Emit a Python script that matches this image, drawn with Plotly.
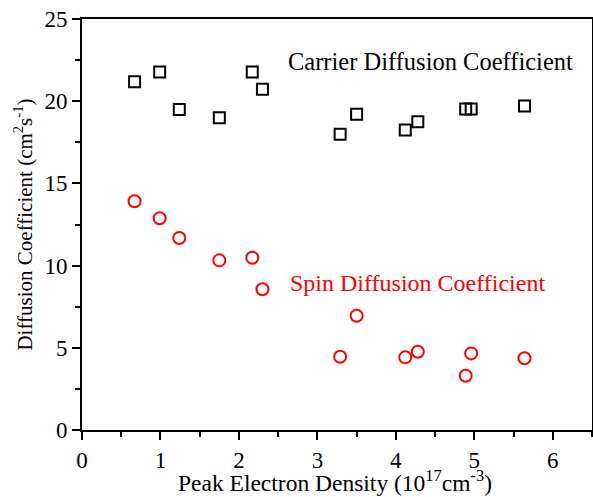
import plotly.graph_objects as go

carrier_x = [0.67, 0.99, 1.24, 1.75, 2.17, 2.30, 3.29, 3.50, 4.12, 4.28, 4.89, 4.96, 5.64]
carrier_y = [21.19, 21.78, 19.5, 19.0, 21.78, 20.72, 17.99, 19.2, 18.25, 18.75, 19.53, 19.53, 19.71]

spin_x = [0.67, 0.99, 1.24, 1.75, 2.17, 2.30, 3.29, 3.50, 4.12, 4.28, 4.89, 4.96, 5.64]
spin_y = [13.91, 12.88, 11.68, 10.32, 10.48, 8.56, 4.46, 6.95, 4.42, 4.76, 3.30, 4.66, 4.36]

font = "Liberation Serif"

fig = go.Figure()
fig.add_trace(go.Scatter(
    x=carrier_x, y=carrier_y, mode="markers",
    marker=dict(symbol="square-open", size=11, color="black", line=dict(width=2, color="black")),
    showlegend=False,
))
fig.add_trace(go.Scatter(
    x=spin_x, y=spin_y, mode="markers",
    marker=dict(symbol="circle-open", size=12, color="red", line=dict(width=2, color="red")),
    showlegend=False,
))

fig.add_annotation(x=2.60, y=22.4, xref="x", yref="y", text="Carrier Diffusion Coefficient",
                   showarrow=False, xanchor="left", yanchor="middle",
                   font=dict(family=font, size=24.5, color="black"))
fig.add_annotation(x=2.63, y=8.94, xref="x", yref="y", text="Spin Diffusion Coefficient",
                   showarrow=False, xanchor="left", yanchor="middle",
                   font=dict(family=font, size=24, color="red"))
# x-axis title as a paper-anchored annotation
fig.add_annotation(x=0.496, y=-0.165, xref="paper", yref="paper",
                   text="Peak Electron Density (10<sup>17</sup>cm<sup>-3</sup>)",
                   showarrow=False, xanchor="center", yanchor="bottom",
                   font=dict(family=font, size=23.5, color="black"))

fig.update_layout(
    width=593, height=497,
    margin=dict(l=82, r=1, t=19, b=67, autoexpand=False),
    paper_bgcolor="white", plot_bgcolor="white",
    font=dict(family=font, size=23, color="black"),
    xaxis=dict(
        range=[0, 6.5], dtick=1, tick0=0, automargin=False,
        showline=True, linecolor="black", linewidth=2, mirror=True,
        ticks="outside", ticklen=8, tickwidth=2, tickcolor="black",
        minor=dict(ticks="outside", ticklen=5, tickwidth=2, tickcolor="black", dtick=0.5),
        showgrid=False, zeroline=False,
        tickfont=dict(size=23),
    ),
    yaxis=dict(
        range=[0, 25], dtick=5, tick0=0, automargin=False,
        showline=True, linecolor="black", linewidth=2, mirror=True,
        ticks="outside", ticklen=8, tickwidth=2, tickcolor="black",
        minor=dict(ticks="outside", ticklen=5, tickwidth=2, tickcolor="black", dtick=2.5),
        showgrid=False, zeroline=False,
        title=dict(text="Diffusion Coefficient (cm<sup>2</sup>s<sup>-1</sup>)", font=dict(size=21), standoff=6),
        tickfont=dict(size=23),
    ),
)

fig.write_html("out.html", config={"displayModeBar": False},
               post_script="document.body.style.margin='0';document.body.style.padding='0';")
